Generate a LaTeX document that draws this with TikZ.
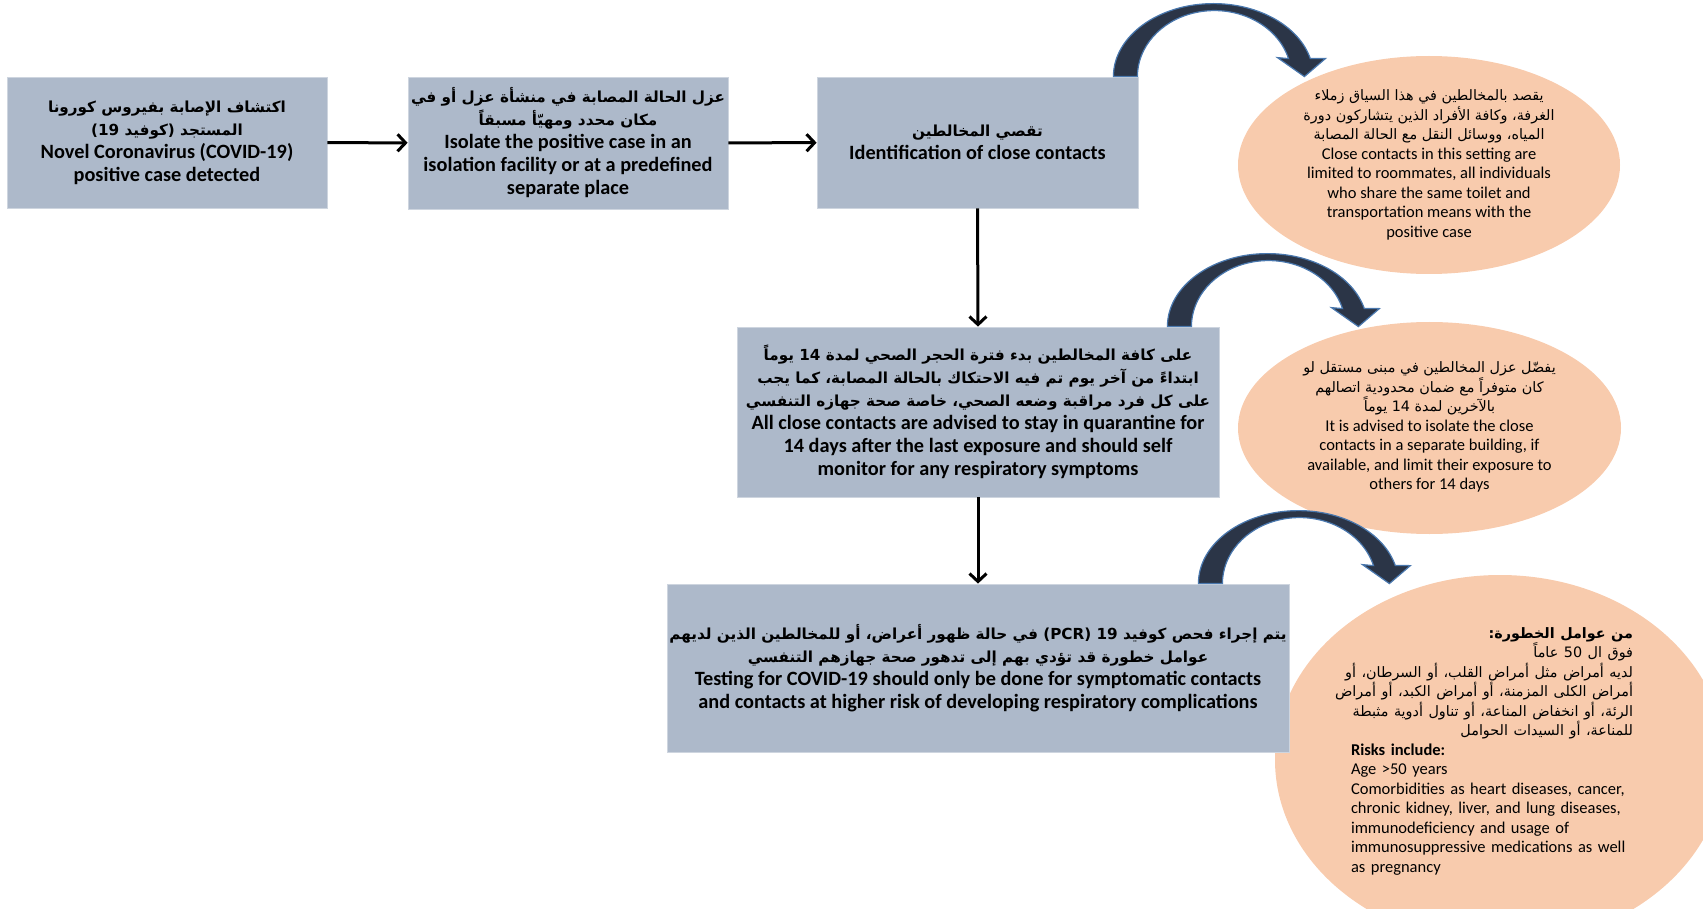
\documentclass[tikz,border=0pt]{standalone}
\usepackage{fontspec}
\setmainfont{Carlito}
\newfontfamily\arabicbox[Script=Arabic,Scale=0.75]{DejaVu Sans}
\newfontfamily\arabicnote[Script=Arabic,Scale=0.87]{DejaVu Sans}
\TeXXeTstate=1
\usetikzlibrary{shapes.geometric, arrows.meta}

\definecolor{boxfill}{HTML}{ADB9CA}
\definecolor{notefill}{HTML}{F8CBAD}
\definecolor{arrowdark}{HTML}{2B3547}
\definecolor{arrowedge}{HTML}{4A78AE}

\newcommand{\artxt}[1]{{\arabicbox\beginR #1\endR}}
\newcommand{\arnote}[1]{{\arabicnote\beginR #1\endR}}
\newcommand{\arright}[1]{\makebox[\linewidth][r]{\arnote{#1}}}

\tikzset{
  stepbox/.style={rectangle, fill=boxfill, draw=boxfill!60!white, line width=0.8pt,
    align=center, inner sep=2pt, font=\bfseries\fontsize{20.3}{23}\selectfont},
  note/.style={ellipse, fill=notefill, inner sep=0pt},
  notetext/.style={align=center, inner sep=0pt, font=\fontsize{16.5}{19.5}\selectfont},
  flow/.style={-{Straight Barb[length=8pt,width=17pt]}, line width=3pt},
  bendarrow/.pic={
    \filldraw[fill=arrowdark, draw=arrowedge, line width=1.2pt]
      (0,0) arc[start angle=180, end angle=345.7, x radius=100, y radius=73]
      -- (212,-18) -- (191,0) -- (164,-19) -- (175.1,-18)
      arc[start angle=344.2, end angle=180, x radius=77, y radius=66] -- cycle;
  }
}

\begin{document}
\begin{tikzpicture}[x=1pt, y=-1pt]
  \useasboundingbox (0,0) rectangle (1703,909);
  \clip (0,0) rectangle (1703,909);

  % side notes
  \node[note, minimum width=382, minimum height=218] (closedef) at (1429,165) {};
  \node[note, minimum width=383, minimum height=212] (building) at (1429.5,428) {};
  \node[note, minimum width=450, minimum height=370] (risks) at (1500,760) {};

  % main steps
  \node[stepbox, minimum width=320, minimum height=131] (case) at (167,142.5)
    {\artxt{اكتشاف الإصابة بفيروس كورونا}\\
     \artxt{المستجد (كوفيد 19)^^^^200f}\\
     Novel Coronavirus (COVID-19)\\
     positive case detected};
  \node[stepbox, minimum width=320, minimum height=132] (isolate) at (568,143)
    {\artxt{عزل الحالة المصابة في منشأة عزل أو في}\\
     \artxt{مكان محدد ومهيّأ مسبقاً}\\
     Isolate the positive case in an\\
     isolation facility or at a predefined\\
     separate place};
  \node[stepbox, minimum width=321, minimum height=131] (contacts) at (977.5,142.5)
    {\artxt{تقصي المخالطين}\\
     Identification of close contacts};
  \node[stepbox, minimum width=482, minimum height=170] (quarantine) at (978,412)
    {\artxt{على كافة المخالطين بدء فترة الحجر الصحي لمدة 14 يوماً}\\
     \artxt{ابتداءً من آخر يوم تم فيه الاحتكاك بالحالة المصابة، كما يجب}\\
     \artxt{على كل فرد مراقبة وضعه الصحي، خاصة صحة جهازه التنفسي}\\
     All close contacts are advised to stay in quarantine for\\
     14 days after the last exposure and should self\\
     monitor for any respiratory symptoms};
  \node[stepbox, minimum width=622, minimum height=168] (testing) at (978,668)
    {\artxt{يتم إجراء فحص كوفيد 19 (PCR) في حالة ظهور أعراض، أو للمخالطين الذين لديهم}\\
     \artxt{عوامل خطورة قد تؤدي بهم إلى تدهور صحة جهازهم التنفسي}\\
     Testing for COVID-19 should only be done for symptomatic contacts\\
     and contacts at higher risk of developing respiratory complications};

  % note texts
  \node[notetext] (closedeftext) at (closedef)
    {\arnote{يقصد بالمخالطين في هذا السياق زملاء}\\
     \arnote{الغرفة، وكافة الأفراد الذين يتشاركون دورة}\\
     \arnote{المياه، ووسائل النقل مع الحالة المصابة}\\
     Close contacts in this setting are\\
     limited to roommates, all individuals\\
     who share the same toilet and\\
     transportation means with the\\
     positive case};
  \node[notetext] (buildingtext) at (1429.5,427)
    {\arnote{يفضّل عزل المخالطين في مبنى مستقل لو}\\
     \arnote{كان متوفراً مع ضمان محدودية اتصالهم}\\
     \arnote{بالآخرين لمدة 14 يوماً}\\
     It is advised to isolate the close\\
     contacts in a separate building, if\\
     available, and limit their exposure to\\
     others for 14 days};
  \node[notetext, align=left, text width=282] (riskstext) at (1492,751)
    {\arright{\bfseries من عوامل الخطورة:}\\
     \arright{فوق ال 50 عاماً}\\
     \arright{لديه أمراض مثل أمراض القلب، أو السرطان، أو}\\
     \arright{أمراض الكلى المزمنة، أو أمراض الكبد، أو أمراض}\\
     \arright{الرئة، أو انخفاض المناعة، أو تناول أدوية مثبطة}\\
     \arright{للمناعة، أو السيدات الحوامل}\\
     {\bfseries Risks include:}\\
     Age >50 years\\
     Comorbidities as heart diseases, cancer,\\
     chronic kidney, liver, and lung diseases,\\
     immunodeficiency and usage of\\
     immunosuppressive medications as well\\
     as pregnancy};

  % connectors
  \draw[flow] (case) -- (isolate);
  \draw[flow] (isolate) -- (contacts);
  \draw[flow] (contacts.south) -- (quarantine.north);
  \draw[flow] (quarantine.south) -- (testing.north);

  % curved arrows to the notes
  \path (contacts.north east) ++(-25,0) pic {bendarrow};
  \path (quarantine.north east) ++(-52,0) pic {bendarrow};
  \path (testing.north east) ++(-91,0) pic {bendarrow};
\end{tikzpicture}
\end{document}
